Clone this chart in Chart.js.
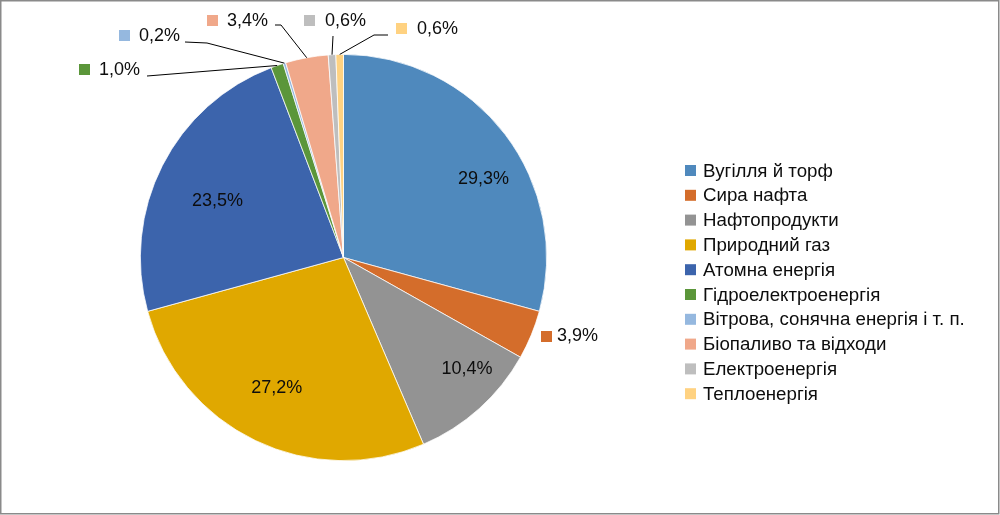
<!DOCTYPE html>
<html>
<head>
<meta charset="utf-8">
<script src="https://cdn.jsdelivr.net/npm/chart.js@4.4.0/dist/chart.umd.min.js"></script>
<style>
  html, body { margin: 0; padding: 0; background: #fff; }
  #wrap { width: 1000px; height: 515px; position: relative; }
</style>
</head>
<body>
<div id="wrap"><canvas id="pie" width="1000" height="515"></canvas></div>
<script>
// дані діаграми
const categories = [
    'Вугілля й торф', 'Сира нафта', 'Нафтопродукти', 'Природний газ', 'Атомна енергія',
    'Гідроелектроенергія', 'Вітрова, сонячна енергія і т. п.', 'Біопаливо та відходи',
    'Електроенергія', 'Теплоенергія'
];
const shares = [29.3, 3.9, 10.4, 27.2, 23.5, 1.0, 0.2, 3.4, 0.6, 0.6];
const colors = ['#4f89bd', '#d46d2b', '#939393', '#e0a800', '#3c64ac',
                '#5b963a', '#95b8df', '#f0a88a', '#bebebe', '#ffd281'];

const FONT = '"Liberation Sans", Arial, sans-serif';
const TEXT = '#0d0d0d';

// розміщення підписів (тільки верстка)
const insideTweak = { 0: { da: 8, f: 0.79 }, 2: { da: -6, f: 0.82 }, 3: { da: 1.4, f: 0.72 }, 4: { da: -2.7, f: 0.68 } };
const outsideLabels = {
    1: { key: [541, 331], text: [557, 336], line: [] },
    5: { key: [79, 64], text: [99, 70], line: [[147, 76]] },
    6: { key: [119, 30], text: [139, 36], line: [[185, 42], [207, 43]] },
    7: { key: [207, 15], text: [227, 21], line: [[275, 25], [281, 25]] },
    8: { key: [304, 15], text: [325, 21], line: [[333, 36]] },
    9: { key: [396, 23], text: [417, 29], line: [[388, 35], [374, 35]] }
};

function fmt(v) {
    return v.toFixed(1).replace('.', ',') + '%';
}

const labelPlugin = {
    id: 'labels',
    afterDatasetsDraw(chart) {
        const ctx = chart.ctx;
        const arcs = chart.getDatasetMeta(0).data;
        ctx.save();
        ctx.font = '18px ' + FONT;
        ctx.fillStyle = TEXT;
        ctx.textBaseline = 'middle';
        arcs.forEach((arc, i) => {
            const p = arc.getProps(['x', 'y', 'startAngle', 'endAngle', 'outerRadius'], true);
            const mid = (p.startAngle + p.endAngle) / 2;
            if (outsideLabels[i]) {
                const o = outsideLabels[i];
                ctx.fillStyle = colors[i];
                ctx.fillRect(o.key[0], o.key[1], 11, 11);
                ctx.fillStyle = TEXT;
                ctx.textAlign = 'left';
                ctx.fillText(fmt(shares[i]), o.text[0], o.text[1]);
                if (o.line.length) {
                    ctx.beginPath();
                    ctx.strokeStyle = '#000';
                    ctx.lineWidth = 1;
                    ctx.moveTo(o.line[0][0], o.line[0][1]);
                    o.line.slice(1).forEach(pt => ctx.lineTo(pt[0], pt[1]));
                    ctx.lineTo(p.x + Math.cos(mid) * p.outerRadius, p.y + Math.sin(mid) * p.outerRadius);
                    ctx.stroke();
                }
            } else {
                const t = insideTweak[i] || { da: 0, f: 0.72 };
                const a = mid + t.da * Math.PI / 180;
                const r = p.outerRadius * t.f;
                ctx.textAlign = 'center';
                ctx.fillText(fmt(shares[i]), p.x + Math.cos(a) * r, p.y + Math.sin(a) * r);
            }
        });
        ctx.restore();
    },
    afterDraw(chart) {
        const ctx = chart.ctx;
        ctx.save();
        // легенда
        ctx.font = '18.7px ' + FONT;
        ctx.textBaseline = 'middle';
        ctx.textAlign = 'left';
        categories.forEach((name, i) => {
            const y = 170.5 + i * 24.8;
            ctx.fillStyle = colors[i];
            ctx.fillRect(685, y - 5.5, 11, 11);
            ctx.fillStyle = TEXT;
            ctx.fillText(name, 703, y + 1);
        });
        // рамка
        ctx.strokeStyle = '#8a8a8a';
        ctx.lineWidth = 1.5;
        ctx.strokeRect(0.75, 0.75, 998, 513);
        ctx.restore();
    }
};

new Chart(document.getElementById('pie'), {
    type: 'pie',
    data: {
        labels: categories,
        datasets: [{
            data: shares,
            backgroundColor: colors,
            borderColor: '#ffffff',
            borderWidth: 0.75
        }]
    },
    options: {
        responsive: false,
        animation: false,
        layout: { padding: { left: 140, right: 453, top: 54, bottom: 54 } },
        plugins: {
            legend: { display: false },
            tooltip: { enabled: false }
        }
    },
    plugins: [labelPlugin]
});
</script>
</body>
</html>
